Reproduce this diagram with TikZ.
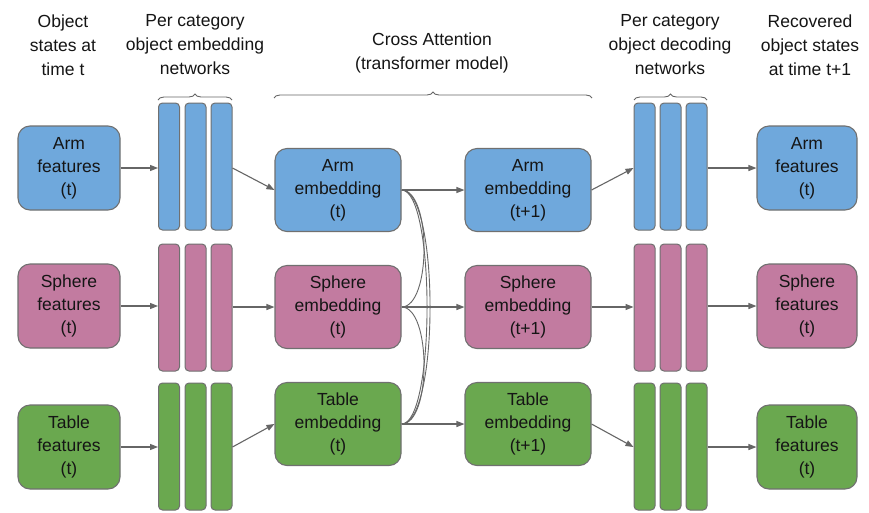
\documentclass[tikz,border=0pt]{standalone}
\usepackage{fontspec}
\setmainfont{Liberation Sans}
\usetikzlibrary{arrows.meta,decorations.pathreplacing}
\definecolor{cblue}{HTML}{6FA8DC}
\definecolor{cpink}{HTML}{C27BA0}
\definecolor{cgreen}{HTML}{6AA84F}
\definecolor{cedge}{HTML}{707070}
\definecolor{ctext}{HTML}{151515}
\definecolor{cline}{HTML}{666666}
\begin{document}
\begin{tikzpicture}[x=1pt,y=-1pt,
  box/.style={draw=cedge,line width=1.1pt,rounded corners=12pt,align=center,
    text=ctext,font=\fontsize{17.5}{23}\selectfont,inner sep=0pt},
  featbox/.style={box,minimum width=102pt,minimum height=84pt},
  embbox/.style={box,minimum width=126pt,minimum height=83pt},
  bar/.style={draw=cedge,line width=1pt,rounded corners=4pt,minimum width=21pt,minimum height=127pt,inner sep=0pt},
  head/.style={align=center,text=ctext,font=\fontsize{17.5}{24}\selectfont},
  arr/.style={draw=cline,line width=1.1pt,-{Triangle[length=8pt,width=6pt]}},
  att/.style={draw=cline,line width=0.9pt},
  brc/.style={draw=cline,line width=0.9pt,decorate,decoration={brace,amplitude=6pt}}]
\useasboundingbox (0,0) rectangle (869,512);
\fill[white] (0,0) rectangle (869,512);

% headers
\node[head] (h1) at (63,45) {Object\\states at\\time t};
\node[head] (h2) at (195,45) {Per category\\object embedding\\networks};
\node[head] (h3) at (432,53) {Cross Attention\\(transformer model)};
\node[head] (h4) at (670,45) {Per category\\object decoding\\networks};
\node[head] (h5) at (810,45) {Recovered\\object states\\at time t+1};

% braces
\coordinate (b1a) at (158,100); \coordinate (b1b) at (232,100);
\coordinate (b2a) at (274,98); \coordinate (b2b) at (592,98);
\coordinate (b3a) at (634,100); \coordinate (b3b) at (707,100);
\draw[brc] (b1a) -- (b1b);
\draw[brc] (b2a) -- (b2b);
\draw[brc] (b3a) -- (b3b);

% left feature boxes
\node[featbox,fill=cblue] (fA) at (69,168) {Arm\\features\\(t)};
\node[featbox,fill=cpink] (fS) at (69,306) {Sphere\\features\\(t)};
\node[featbox,fill=cgreen] (fT) at (69,447) {Table\\features\\(t)};

% bars
\foreach \r/\c/\y in {A/cblue/166.5,S/cpink/307.5,T/cgreen/446.5}{
  \node[bar,fill=\c] (lb1\r) at (169,\y) {};
  \node[bar,fill=\c] (lb2\r) at (195.5,\y) {};
  \node[bar,fill=\c] (lb3\r) at (221.5,\y) {};
  \node[bar,fill=\c] (rb1\r) at (644.5,\y) {};
  \node[bar,fill=\c] (rb2\r) at (670.5,\y) {};
  \node[bar,fill=\c] (rb3\r) at (696.5,\y) {};
}

% embedding boxes
\node[embbox,fill=cblue] (eA) at (338,190) {Arm\\embedding\\(t)};
\node[embbox,fill=cpink] (eS) at (338,307) {Sphere\\embedding\\(t)};
\node[embbox,fill=cgreen] (eT) at (338,424) {Table\\embedding\\(t)};
\node[embbox,fill=cblue] (nA) at (528,190) {Arm\\embedding\\(t+1)};
\node[embbox,fill=cpink] (nS) at (528,307) {Sphere\\embedding\\(t+1)};
\node[embbox,fill=cgreen] (nT) at (528,424) {Table\\embedding\\(t+1)};

% right feature boxes
\node[featbox,fill=cblue,minimum width=100pt] (oA) at (807,168) {Arm\\features\\(t)};
\node[featbox,fill=cpink,minimum width=100pt] (oS) at (807,306) {Sphere\\features\\(t)};
\node[featbox,fill=cgreen,minimum width=100pt] (oT) at (807,447) {Table\\features\\(t)};

% arrows features -> bars
\draw[arr] (fA.east) -- (fA.east -| lb1A.west);
\draw[arr] (fS.east) -- (fS.east -| lb1S.west);
\draw[arr] (fT.east) -- (fT.east -| lb1T.west);
% bars -> embeddings
\draw[arr] (lb3A.east |- fA.east) -- (eA.west);
\draw[arr] (lb3S.east |- eS.west) -- (eS.west);
\draw[arr] (lb3T.east |- fT.east) -- (eT.west);
% embedding t -> t+1
\draw[arr] (eA.east) -- (nA.west);
\draw[arr] (eS.east) -- (nS.west);
\draw[arr] (eT.east) -- (nT.west);
% t+1 -> decoding bars
\draw[arr] (nA.east) -- (rb1A.west |- oA.west);
\draw[arr] (nS.east) -- (rb1S.west |- nS.east);
\draw[arr] (nT.east) -- (rb1T.west |- oT.west);
% bars -> output
\draw[arr] (rb3A.east |- oA.west) -- (oA.west);
\draw[arr] (rb3S.east |- oS.west) -- (oS.west);
\draw[arr] (rb3T.east |- oT.west) -- (oT.west);

% cross attention curves
\draw[att] (eA.east) .. controls +(30,0) and +(30,0) .. (eS.east);
\draw[att] (eS.east) .. controls +(30,0) and +(30,0) .. (eT.east);
\draw[att] (eA.east) .. controls +(34,0) and +(34,0) .. (eT.east);
\draw[att] (eA.east) .. controls +(38,0) and +(38,0) .. (eT.east);
\end{tikzpicture}
\end{document}
